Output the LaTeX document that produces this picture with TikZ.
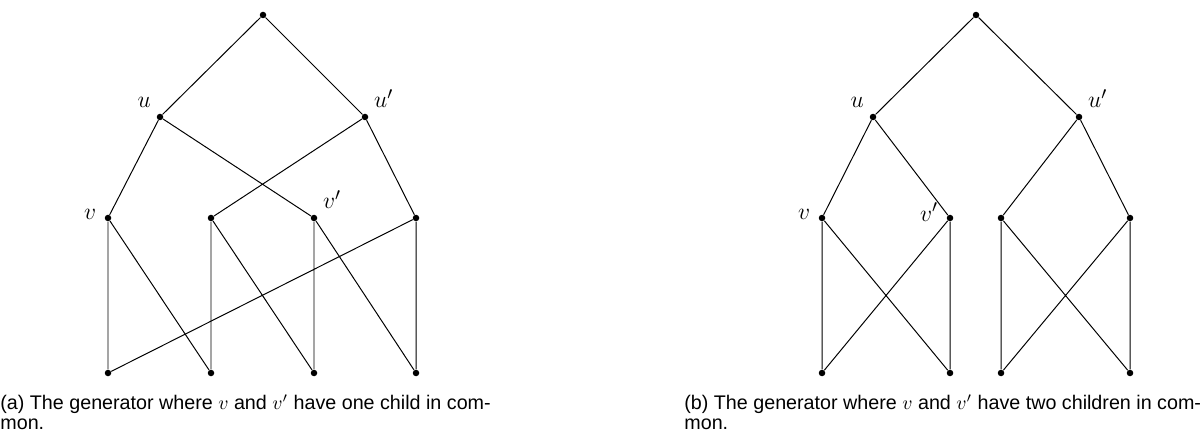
\documentclass[tikz,border=0pt]{standalone}
\usepackage{fontspec}
\setsansfont{Liberation Sans}
\usepackage{tikz}
\usetikzlibrary{positioning}

\begin{document}
\begin{tikzpicture}[x=0.5076pt, y=-0.5076pt,
  vtx/.style={circle, fill=black, inner sep=0pt, minimum size=3.3pt},
  lbl/.style={font=\fontsize{13}{15}\selectfont, inner sep=1pt, label distance=3pt},
  edge/.style={line width=0.5pt},
  capt/.style={font=\sffamily\fontsize{10}{10.2}\selectfont, align=left, inner sep=0pt, anchor=north west}]
\useasboundingbox (0,0) rectangle (1202,432);

% (a) one child in common
\node[vtx] (ra) at (263,15) {};
\node[vtx, label={[lbl]above left:$u$}] (ua) at (160,117) {};
\node[vtx, label={[lbl]above right:$u'$}] (upa) at (365,117) {};
\node[vtx, label={[lbl, yshift=2pt]left:$v$}] (va) at (108,218) {};
\node[vtx] (wa) at (211,218) {};
\node[vtx, label={[lbl]above right:$v'$}] (vpa) at (314,218) {};
\node[vtx] (xa) at (416,218) {};
\node[vtx] (la1) at (108,373) {};
\node[vtx] (la2) at (211,373) {};
\node[vtx] (la3) at (314,373) {};
\node[vtx] (la4) at (416,373) {};

\draw[edge] (ra) -- (ua) (ra) -- (upa);
\draw[edge] (ua) -- (va) (ua) -- (vpa) (upa) -- (wa) (upa) -- (xa);
\draw[edge] (va) -- (la1) (va) -- (la2) (wa) -- (la2) (wa) -- (la3);
\draw[edge] (vpa) -- (la3) (vpa) -- (la4) (xa) -- (la4) (xa) -- (la1);

\node[capt] (capa) at (0,394) {(a) The generator where $v$ and $v'$ have one child in com-\\mon.};

% (b) two children in common
\node[vtx] (rb) at (976,15) {};
\node[vtx, label={[lbl]above left:$u$}] (ub) at (873,117) {};
\node[vtx, label={[lbl]above right:$u'$}] (upb) at (1079,117) {};
\node[vtx, label={[lbl, yshift=2pt]left:$v$}] (vb) at (822,218) {};
\node[vtx, label={[lbl, yshift=3pt]left:$v'$}] (vpb) at (950,218) {};
\node[vtx] (wb) at (1001,218) {};
\node[vtx] (xb) at (1130,218) {};
\node[vtx] (lb1) at (822,373) {};
\node[vtx] (lb2) at (950,373) {};
\node[vtx] (lb3) at (1001,373) {};
\node[vtx] (lb4) at (1130,373) {};

\draw[edge] (rb) -- (ub) (rb) -- (upb);
\draw[edge] (ub) -- (vb) (ub) -- (vpb) (upb) -- (wb) (upb) -- (xb);
\draw[edge] (vb) -- (lb1) (vb) -- (lb2) (vpb) -- (lb1) (vpb) -- (lb2);
\draw[edge] (wb) -- (lb3) (wb) -- (lb4) (xb) -- (lb3) (xb) -- (lb4);

\node[capt] (capb) at (684,394) {(b) The generator where $v$ and $v'$ have two children in com-\\mon.};
\end{tikzpicture}
\end{document}
